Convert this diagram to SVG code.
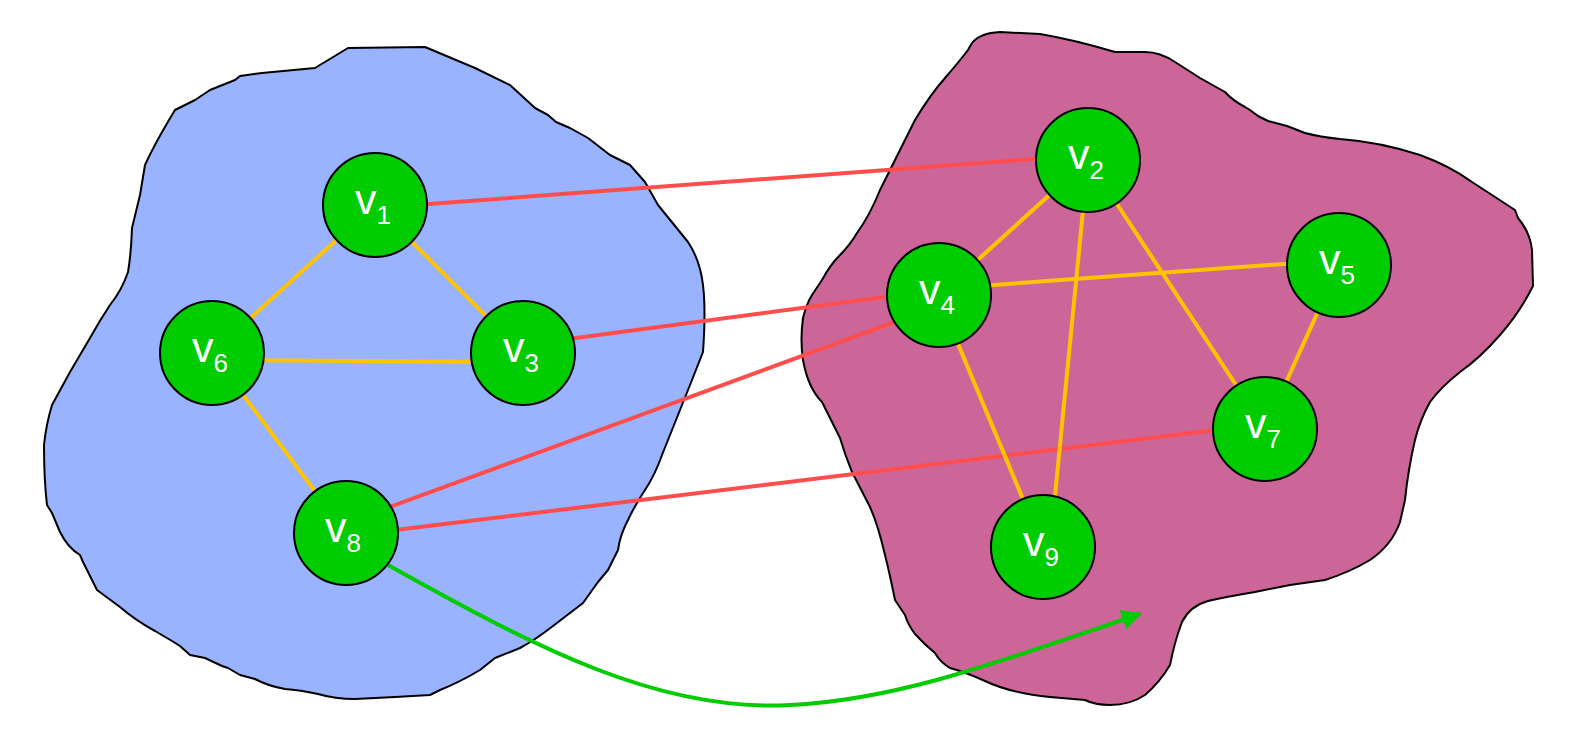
<svg xmlns="http://www.w3.org/2000/svg" width="1570" height="754" viewBox="0 0 1570 754">
<style>
.blob{stroke:#000;stroke-width:2;stroke-linejoin:round}
.node circle{fill:#00cc00;stroke:#000;stroke-width:2}
.node text{font-family:"Liberation Sans",Arial,sans-serif;font-size:43px;fill:#fff}
.node tspan{font-size:26px}
.red{stroke:#ff4d4d;stroke-width:4;fill:none}
.yel{stroke:#ffc400;stroke-width:4;fill:none}
</style>
<defs>
<marker id="ah" viewBox="0 0 10 10" refX="9" refY="5" markerWidth="5" markerHeight="5" orient="auto" markerUnits="strokeWidth">
<path d="M0,0 L10,5 L0,10 z" fill="#00cc00"/>
</marker>
</defs>
<g id="regions">
<path class="blob" fill="#99b3ff" d="M348,48 L425,47 L475,68 L510,85 L535,108 L548,115 L556,122 L570,128 L588,138 L610,155 L630,165 L645,182 L658,205 L688,242 Q700,260 703,285 Q706,310 703,352 L690,385 L680,410 L662,455 Q655,475 645,490 Q635,505 628,520 Q620,535 618,550 L608,570 L598,582 L583,603 L553,626 Q535,640 520,648 L495,658 L480,670 Q460,682 440,690 L430,695 L395,697 L355,699 Q335,699 318,694 Q300,690 285,689 Q268,686 255,679 L240,675 L228,668 L222,666 L205,658 L190,655 L180,646 L172,641 L155,631 Q135,620 120,607 L97,590 L83,562 L80,555 Q68,548 60,532 L52,513 L47,505 Q44,480 44,445 Q46,425 52,405 L70,372 L90,338 Q100,320 110,305 Q122,290 128,272 Q131,255 132,228 L140,195 L145,165 Q155,143 175,110 L195,100 L210,90 L235,80 L240,76 L262,73 L315,68 Z"/>
<path class="blob" fill="#cc6699" d="M972,43 Q980,33 1000,32 L1040,34 Q1075,40 1115,52 L1145,52 Q1160,52 1175,62 L1200,78 L1225,92 Q1232,100 1245,107 L1250,110 L1258,116 L1268,121 L1287,126 L1305,133 Q1320,137 1340,139 Q1380,142 1420,155 Q1450,166 1472,182 L1515,210 L1518,218 Q1530,232 1532,250 L1533,286 Q1520,312 1500,335 Q1480,358 1460,372 Q1440,388 1430,402 Q1420,420 1415,440 Q1408,470 1405,500 L1400,522 Q1392,545 1370,560 Q1350,572 1325,580 L1290,585 L1255,592 Q1225,597 1208,601 Q1190,606 1182,622 Q1175,640 1170,665 Q1160,682 1145,695 Q1130,705 1110,705 Q1095,705 1085,700 L1050,697 Q1010,693 985,681 Q965,672 950,668 Q940,662 935,653 Q925,645 915,634 Q908,625 905,615 L895,600 Q890,575 885,555 Q878,525 870,507 L852,472 Q845,455 840,438 L822,402 Q808,388 803,360 Q800,340 803,318 Q806,305 812,295 L822,280 Q830,265 840,255 Q850,245 857,233 Q870,215 880,190 L895,160 Q905,140 915,120 Q930,95 945,78 Q958,63 968,50 Z"/>
</g>
<g id="connectors">
<line class="red" x1="375" y1="208" x2="1088" y2="155"/>
<line class="red" x1="523" y1="345" x2="938" y2="290"/>
<line class="red" x1="346" y1="523" x2="938" y2="306"/>
<line class="red" x1="346" y1="536" x2="1265" y2="424"/>
<line class="yel" x1="375" y1="205" x2="212" y2="353"/>
<line class="yel" x1="375" y1="205" x2="523" y2="353"/>
<line class="yel" x1="212" y1="360" x2="523" y2="362"/>
<line class="yel" x1="212" y1="353" x2="346" y2="533"/>
<line class="yel" x1="1088" y1="160" x2="938" y2="296"/>
<line class="yel" x1="1088" y1="160" x2="1050" y2="547"/>
<line class="yel" x1="1088" y1="160" x2="1265" y2="429"/>
<line class="yel" x1="938" y1="289" x2="1339" y2="260"/>
<line class="yel" x1="938" y1="296" x2="1043" y2="547"/>
<line class="yel" x1="1339" y1="265" x2="1265" y2="429"/>
<path d="M388,565 C540,650 660,712 790,705 C900,700 1010,658 1140,614" fill="none" stroke="#00cc00" stroke-width="4" marker-end="url(#ah)"/>
</g>
<g id="v1" class="node"><circle cx="375" cy="205" r="52"/><text x="355" y="214">v<tspan dy="10">1</tspan></text></g>
<g id="v6" class="node"><circle cx="212" cy="353" r="52"/><text x="192" y="362">v<tspan dy="10">6</tspan></text></g>
<g id="v3" class="node"><circle cx="523" cy="353" r="52"/><text x="503" y="362">v<tspan dy="10">3</tspan></text></g>
<g id="v8" class="node"><circle cx="346" cy="533" r="52"/><text x="325" y="542">v<tspan dy="10">8</tspan></text></g>
<g id="v2" class="node"><circle cx="1088" cy="160" r="52"/><text x="1068" y="169">v<tspan dy="10">2</tspan></text></g>
<g id="v4" class="node"><circle cx="939" cy="295" r="52"/><text x="919" y="304">v<tspan dy="10">4</tspan></text></g>
<g id="v5" class="node"><circle cx="1339" cy="265" r="52"/><text x="1319" y="274">v<tspan dy="10">5</tspan></text></g>
<g id="v7" class="node"><circle cx="1265" cy="429" r="52"/><text x="1245" y="438">v<tspan dy="10">7</tspan></text></g>
<g id="v9" class="node"><circle cx="1043" cy="547" r="52"/><text x="1023" y="556">v<tspan dy="10">9</tspan></text></g>
</svg>
